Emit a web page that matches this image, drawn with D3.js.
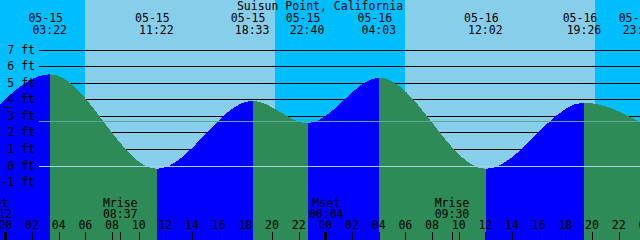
<!DOCTYPE html>
<html>
<head>
<meta charset="utf-8">
<script src="https://cdn.jsdelivr.net/npm/d3@7"></script>
<style>
  body { margin: 0; background: #fff; }
  svg { display: block; }
  text { font-family: "DejaVu Sans Mono", monospace; font-size: 11.5px; fill: #000; }
</style>
</head>
<body>
<svg id="chart" width="640" height="240"></svg>
<script>
// tide extremes (date, time, height in ft)
const tideDates = ["05-14", "05-15", "05-15", "05-15", "05-15", "05-16", "05-16", "05-16", "05-16"];
const tideTimes = ["22:18", "03:22", "11:22", "18:33", "22:40", "04:03", "12:02", "19:26", "23:38"];
const tideHeights = [2.6, 5.5, -0.2, 3.9, 2.55, 5.3, -0.2, 3.8, 2.6];

// sunrise / sunset
const sunDates = ["05-15", "05-15", "05-16", "05-16"];
const sunTimes = ["05:59", "20:14", "05:59", "20:15"];

// moon events
const moonDates = ["05-14", "05-15", "05-16", "05-16"];
const moonTimes = ["23:12", "08:37", "00:04", "09:30"];
const moonEvents = ["Mset", "Mrise", "Mset", "Mrise"];

const levels = [-1, 0, 1, 2, 3, 4, 5, 6, 7];
const gridLevels = [1, 2, 3, 4, 5, 6, 7];
const midLevel = 2.69;
const title = "Suisun Point, California";

function hoursOf(date, time) {
  const day = +date.slice(3) - 15;
  const [hh, mm] = time.split(":").map(Number);
  return day * 24 + hh + mm / 60;
}

const svg = d3.select("#chart");
const W = 640, H = 240;

const x = d3.scaleLinear().domain([0, 48]).range([5.33, 645.33]);
const y = d3.scaleLinear().domain([0, 7]).range([165.5, 49.5]);

const tide = tideDates.map((d, i) => ({
  t: hoursOf(d, tideTimes[i]), h: tideHeights[i], date: d, time: tideTimes[i]
}));

//Day / night background
const sun = sunDates.map((d, i) => hoursOf(d, sunTimes[i]));
const bands = [[-10, sun[0], true], [sun[0], sun[1], false], [sun[1], sun[2], true], [sun[2], sun[3], false], [sun[3], 60, true]];
svg.append("g").selectAll("rect").data(bands).join("rect")
  .attr("x", d => Math.round(x(d[0])))
  .attr("width", d => Math.round(x(d[1])) - Math.round(x(d[0])))
  .attr("y", 0).attr("height", H)
  .attr("fill", d => d[2] ? "#00bfff" : "#87ceeb");

//Grid lines behind the tide
svg.append("g").selectAll("line").data(gridLevels).join("line")
  .attr("x1", 39).attr("x2", W)
  .attr("y1", d => Math.round(y(d)) + 0.5).attr("y2", d => Math.round(y(d)) + 0.5)
  .attr("stroke", "#000").attr("stroke-width", 1);

//Tide area, blue when rising, green when falling
const area = d3.area()
  .x(d => x(d.t))
  .y0(H)
  .y1(d => y(d.h))
  .curve(d3.curveMonotoneX);

const defs = svg.append("defs");
const segments = d3.pairs(tide);
segments.forEach(([a, b], i) => {
  defs.append("clipPath").attr("id", "seg" + i)
    .append("rect")
    .attr("x", Math.round(x(a.t))).attr("width", Math.round(x(b.t)) - Math.round(x(a.t)))
    .attr("y", 0).attr("height", H);
  svg.append("path").datum(tide)
    .attr("d", area)
    .attr("clip-path", `url(#seg${i})`)
    .attr("shape-rendering", "crispEdges")
    .attr("fill", b.h > a.h ? "#0000ff" : "#2e8b57");
});

//Zero and mid level lines
svg.append("line")
  .attr("x1", 39).attr("x2", W)
  .attr("y1", Math.round(y(0)) + 0.5).attr("y2", Math.round(y(0)) + 0.5)
  .attr("stroke", "#9fd3ef");
svg.append("line")
  .attr("x1", 39).attr("x2", W)
  .attr("y1", Math.round(y(midLevel)) + 0.5).attr("y2", Math.round(y(midLevel)) + 0.5)
  .attr("stroke", "#5aa898");

//Y labels
svg.append("g").selectAll("text").data(levels).join("text")
  .attr("x", 35).attr("y", d => y(d) + 4)
  .attr("text-anchor", "end")
  .text(d => `${d} ft`);

//Title and extreme labels
svg.append("text").attr("x", 320).attr("y", 10).attr("text-anchor", "middle").text(title);
const extremeLabels = svg.append("g").selectAll("g").data(tide).join("g");
extremeLabels.append("text").attr("x", d => x(d.t) - 4.5).attr("y", 21.5)
  .attr("text-anchor", "middle").text(d => d.date);
extremeLabels.append("text").attr("x", d => x(d.t) - 0.5).attr("y", 33.5)
  .attr("text-anchor", "middle").text(d => d.time);

//Hour ticks
const hours = d3.range(-2, 50, 2);
svg.append("g").selectAll("line").data(hours).join("line")
  .attr("x1", d => Math.round(x(d)) + 0.5).attr("x2", d => Math.round(x(d)) + 0.5)
  .attr("y1", 232).attr("y2", H)
  .attr("stroke", "#000")
  .attr("stroke-width", d => (d % 24 === 0 ? 3 : 1));
svg.append("g").selectAll("text").data(hours).join("text")
  .attr("x", d => x(d)).attr("y", 229)
  .attr("text-anchor", "middle")
  .text(d => d3.format("02d")(((d % 24) + 24) % 24));

//Moon events
const moon = moonDates.map((d, i) => ({ t: hoursOf(d, moonTimes[i]), time: moonTimes[i], ev: moonEvents[i] }));
const mg = svg.append("g").selectAll("g").data(moon).join("g");
mg.append("line")
  .attr("x1", d => Math.round(x(d.t)) + 0.5).attr("x2", d => Math.round(x(d.t)) + 0.5)
  .attr("y1", 232).attr("y2", H).attr("stroke", "#000");
mg.append("text").attr("x", d => x(d.t)).attr("y", 206.5)
  .attr("text-anchor", "middle").text(d => d.ev);
mg.append("text").attr("x", d => x(d.t)).attr("y", 217.5)
  .attr("text-anchor", "middle").text(d => d.time);

//Marker
svg.append("path")
  .attr("d", "M3.5,107.5H12M7.5,103V112")
  .attr("stroke", "#000").attr("fill", "none")
  .attr("shape-rendering", "crispEdges");
</script>
</body>
</html>
